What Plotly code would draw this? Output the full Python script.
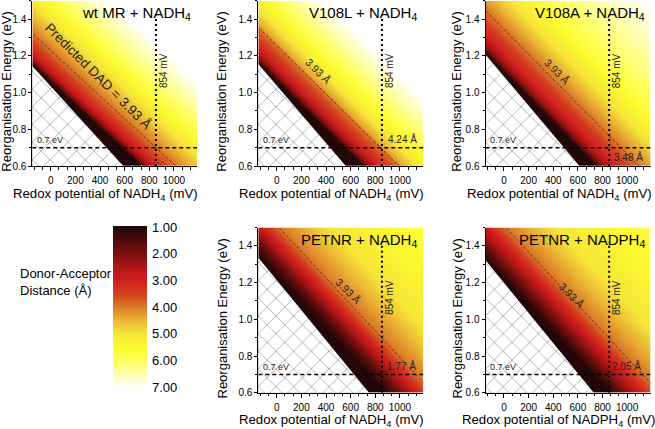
import numpy as np
import plotly.graph_objects as go

W, H = 655, 429
FONT = "Arial, Liberation Sans, sans-serif"

# ---- data ----
panel_titles = ["wt MR + NADH<sub>4</sub>", "V108L + NADH<sub>4</sub>", "V108A + NADH<sub>4</sub>",
                "PETNR + NADH<sub>4</sub>", "PETNR + NADPH<sub>4</sub>"]
x_titles = ["Redox potential of NADH<sub>4</sub> (mV)"] * 4 + ["Redox potential of NADPH<sub>4</sub> (mV)"]

redox_range = [-150, 1190]     # mV
energy_range = [0.6, 1.5]      # eV
marker_redox = 854             # mV (dotted line)
marker_energy = 0.7            # eV (dashed line)

# slope of the lines of equal distance (eV per mV), per panel
iso_slope = [0.00062, 0.00066, 0.00068, 0.00072, 0.00072]
# redox value (at 0.6 eV) where the hatched (no solution) region ends
boundary_mv = [737, 700, 750, 880, 860]
# donor-acceptor distance profile: mV past the boundary -> distance (A)
profile_offsets = [
    [0, 35, 110, 278, 540, 800, 1200],
    [0, 40, 120, 295, 305, 440, 680, 1050],
    [0, 45, 140, 251, 345, 620, 1000, 1750],
    [0, 113, 140, 260, 388, 800, 1800, 3000],
    [0, 133, 260, 405, 800, 1800, 3000],
]
profile_dad = [
    [1, 2, 3, 3.93, 5, 6, 7],
    [1, 2, 3, 3.93, 4.24, 5, 6, 7],
    [1, 2, 3, 3.48, 3.93, 5, 6, 7],
    [1, 1.77, 2, 3, 3.93, 5, 6, 7],
    [1, 2.05, 3, 3.93, 5, 6, 7],
]
predicted_dad = 3.93
point_labels = ["", "4.24 Å", "3.48 Å", "1.77 Å", "2.05 Å"]
point_label_pos = [None, (885, 0.705, "bottom"), (875, 0.695, "top"), (879, 0.705, "bottom"), (861, 0.705, "bottom")]
dad_label_pos = [(386, 1.086), (337, 1.117), (428, 1.117), (581, 1.153), (550, 1.135)]

cbar_levels = [1, 1.5, 2, 2.5, 3, 3.5, 4, 4.5, 5, 5.5, 6, 6.5, 7]
cbar_colors = ["#220707", "#4e0b0b", "#7e1010", "#b21616", "#d11e1e", "#d4421f", "#dc7c29",
               "#ebb634", "#f6e638", "#fdfb2e", "#ffff5c", "#ffffb0", "#ffffff"]
cbar_ticks = [1, 2, 3, 4, 5, 6, 7]

colorscale = [[(v - 1) / 6, c] for v, c in zip(cbar_levels, cbar_colors)]

# ---- layout in pixels ----
col_left = [32.3, 258.3, 485.5]
panel_w = 165
row_top = [0.7, 227.5]
panel_h = 165.3
panel_pos = [(0, 0), (0, 1), (0, 2), (1, 1), (1, 2)]
ytitle_x = [7, 222, 457]


def px(x):
    return x / W


def py(y):
    return 1 - y / H


fig = go.Figure()
layout = {}
annotations = []

grid_x = np.arange(redox_range[0], redox_range[1] + 1, 10)
grid_y = np.arange(energy_range[0], energy_range[1] + 0.0001, 0.01)
GX, GY = np.meshgrid(grid_x, grid_y)

for i in range(5):
    r, c = panel_pos[i]
    sfx = "" if i == 0 else str(i + 1)
    xa, ya = "x" + sfx, "y" + sfx
    u0 = boundary_mv[i]
    s = iso_slope[i]

    off = GX + (GY - 0.6) / s - u0
    z = np.interp(off, profile_offsets[i], profile_dad[i])
    fig.add_trace(go.Heatmap(x=grid_x, y=grid_y, z=z, zmin=1, zmax=7, colorscale=colorscale,
                             zsmooth="best", showscale=False, hoverinfo="skip", xaxis=xa, yaxis=ya))

    # hatched region
    x0 = redox_range[0] - 50
    lam_left = 0.6 + s * (u0 - x0)
    x_low = u0 - 0.05 / s
    fig.add_trace(go.Scatter(x=[x0, x0, x_low, x0], y=[lam_left, 0.55, 0.55, lam_left],
                             mode="lines", fill="toself", fillcolor="white", line=dict(width=0),
                             fillpattern=dict(shape="x", size=12.5, solidity=0.15,
                                              fgcolor="#6c6c6c", bgcolor="white"),
                             hoverinfo="skip", showlegend=False, xaxis=xa, yaxis=ya))

    # predicted-distance iso line
    u393 = u0 + np.interp(predicted_dad, profile_dad[i], profile_offsets[i])
    fig.add_trace(go.Scatter(x=[x0, u393 + 100], y=[0.6 + s * (u393 - x0), 0.6 - s * 100],
                             mode="lines", line=dict(color="#3a2a1a", width=0.8, dash="3px,2px"),
                             hoverinfo="skip", showlegend=False, xaxis=xa, yaxis=ya))
    # marker lines
    fig.add_trace(go.Scatter(x=redox_range, y=[marker_energy, marker_energy], mode="lines",
                             line=dict(color="black", width=1.5, dash="4px,3px"),
                             hoverinfo="skip", showlegend=False, xaxis=xa, yaxis=ya))
    fig.add_trace(go.Scatter(x=[marker_redox, marker_redox], y=[0.6, 1.42], mode="lines",
                             line=dict(color="black", width=2, dash="2px,3px"),
                             hoverinfo="skip", showlegend=False, xaxis=xa, yaxis=ya))

    left = col_left[c]
    top = row_top[r]
    layout["xaxis" + sfx] = dict(
        domain=[px(left), px(left + panel_w)], range=redox_range, anchor=ya,
        tick0=0, dtick=200, ticks="outside", ticklen=4, tickwidth=1, tickcolor="black",
        minor=dict(dtick=200 / 3, tick0=0, ticks="outside", ticklen=2.5, tickcolor="black"),
        showline=True, linecolor="black", linewidth=1, showgrid=False, zeroline=False,
        ticklabelstandoff=1, tickfont=dict(size=10, color="black", family=FONT))
    layout["yaxis" + sfx] = dict(
        domain=[py(top + panel_h), py(top)], range=energy_range, anchor=xa,
        tick0=0.6, dtick=0.2, tickformat=".1f", ticks="outside", ticklen=3, tickwidth=1,
        tickcolor="black", minor=dict(dtick=0.1, ticks="outside", ticklen=2, tickcolor="black"),
        showline=True, linecolor="black", linewidth=1, showgrid=False, zeroline=False,
        tickfont=dict(size=10, color="black", family=FONT))

    # texts
    annotations.append(dict(xref="paper", yref="paper", x=px(left + panel_w - 4), y=py(top + 13),
                            xanchor="right", yanchor="middle", showarrow=False,
                            text=panel_titles[i], font=dict(size=15, color="black")))
    annotations.append(dict(xref="paper", yref="paper", x=px(left + panel_w / 2 - 9),
                            y=py(top + panel_h + 28), xanchor="center", yanchor="middle",
                            showarrow=False, text=x_titles[i], font=dict(size=13.2, color="black")))
    annotations.append(dict(xref="paper", yref="paper", x=px(ytitle_x[c]), y=py(top + 91),
                            xanchor="center", yanchor="middle", textangle=-90, showarrow=False,
                            text="Reorganisation Energy (eV)", font=dict(size=13, color="black")))
    annotations.append(dict(xref=xa, yref=ya, x=redox_range[0] + 20, y=marker_energy + 0.005,
                            xanchor="left", yanchor="bottom", showarrow=False, text="0.7 eV",
                            font=dict(size=9, color="#222")))
    annotations.append(dict(xref=xa, yref=ya, x=marker_redox + 62, y=1.12, textangle=-90,
                            xanchor="center", yanchor="middle", showarrow=False,
                            text=f"{marker_redox} mV", font=dict(size=10, color="#222")))
    lx, ly = dad_label_pos[i]
    annotations.append(dict(xref=xa, yref=ya, x=lx, y=ly, textangle=45, showarrow=False,
                            text="Predicted DAD = 3.93 Å" if i == 0 else "3.93 Å",
                            font=dict(size=13.5 if i == 0 else 10.5, color="#222")))
    if point_label_pos[i]:
        qx, qy, anc = point_label_pos[i]
        annotations.append(dict(xref=xa, yref=ya, x=qx, y=qy, xanchor="left", yanchor=anc,
                                showarrow=False, text=point_labels[i],
                                font=dict(size=10, color="#222")))

# colour bar as its own small axes
fig.add_trace(go.Heatmap(x=[0], y=cbar_levels, z=[[v] for v in cbar_levels], zmin=1, zmax=7,
                         colorscale=colorscale, zsmooth="best", showscale=False, hoverinfo="skip",
                         xaxis="x6", yaxis="y6"))
layout["xaxis6"] = dict(domain=[px(113), px(147)], anchor="y6", visible=False, range=[-0.5, 0.5])
layout["yaxis6"] = dict(domain=[py(387), py(226)], anchor="x6", range=[7, 0.96], side="right",
                        tickvals=cbar_ticks, ticktext=[f"{v:.2f}" for v in cbar_ticks],
                        ticks="", showline=False, showgrid=False, zeroline=False,
                        ticklabelstandoff=4, tickfont=dict(size=13, color="black", family=FONT))
annotations.append(dict(xref="paper", yref="paper", x=px(18), y=py(281.5), xanchor="left",
                        yanchor="middle", align="left", showarrow=False,
                        text="Donor-Acceptor<br>Distance (Å)", font=dict(size=13, color="black")))

fig.update_layout(width=W, height=H, margin=dict(l=0, r=0, t=0, b=0, autoexpand=False),
                  paper_bgcolor="white", plot_bgcolor="white", showlegend=False,
                  font=dict(family=FONT, color="black"), annotations=annotations, **layout)

pin_page = (
    "document.documentElement.style.overflow='hidden';"
    "document.body.style.margin='0';document.body.style.overflow='hidden';"
    "var gd=document.getElementsByClassName('plotly-graph-div')[0];"
    "gd.style.position='fixed';gd.style.top='0px';gd.style.left='0px';"
)
fig.write_html("out.html", config={"displayModeBar": False}, post_script=pin_page)
